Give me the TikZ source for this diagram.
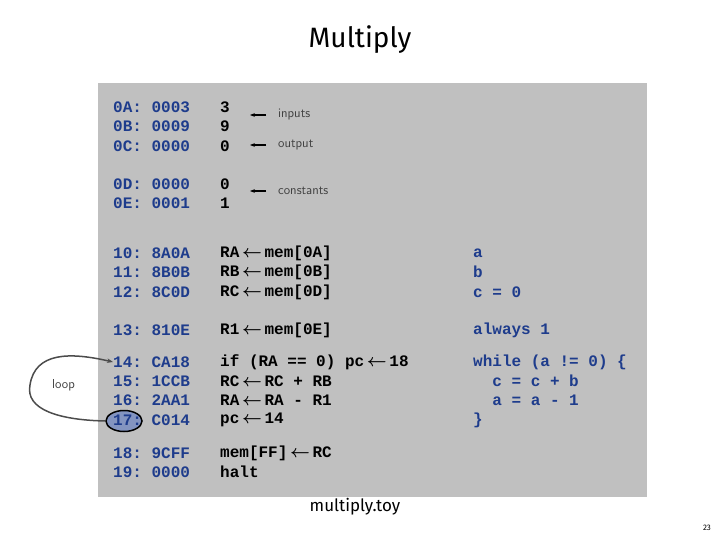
\documentclass[tikz,border=0pt]{standalone}
\usepackage{amsmath}
\usepackage{fontspec}
\setmainfont{Fira Sans}
\setmonofont{Liberation Mono}
\usetikzlibrary{arrows.meta, shapes.geometric}
\definecolor{codeblue}{HTML}{1E3C8C}
\definecolor{boxgray}{HTML}{C0C0C0}
\tikzstyle{addr} = [anchor=west, font=\ttfamily\bfseries\fontsize{16}{16}\selectfont, text=codeblue, inner sep=0pt]
\tikzstyle{instr} = [anchor=west, font=\ttfamily\bfseries\fontsize{16}{16}\selectfont, text=black, inner sep=0pt]
\tikzstyle{note} = [anchor=west, font=\sffamily\fontsize{13}{13}\selectfont, text=black!75, inner sep=0pt]
\tikzstyle{arrow} = [line width=1.3pt,-{Stealth[length=5pt]}]
\newcommand{\la}{\,$\boldsymbol{\leftarrow}$\,}
\begin{document}
\begin{tikzpicture}[x=1pt,y=-1pt]
    \useasboundingbox (0,0) rectangle (720,540);
    \fill[boxgray] (98,83) rectangle (647,497);
    \node (title) at (360,40) {\fontsize{28}{28}\selectfont Multiply};
    \node (file) at (355,507) {\fontsize{17}{17}\selectfont multiply.toy};
    \node (page) at (707,528) {\fontsize{8}{8}\selectfont 23};
    % ring behind the last loop word
    \node (ring) [ellipse, draw=black, line width=1.5pt, fill=codeblue!55, minimum width=36pt, minimum height=21pt, inner sep=0pt] at (124,421) {};
    % memory words
    \foreach \y/\a/\b [count=\i] in {107/0A: 0003/3, 126/0B: 0009/9, 146/0C: 0000/0,
        184/0D: 0000/0, 203/0E: 0001/1} {
        \node (a\i) [addr] at (113,\y) {\a};
        \node (v\i) [instr] at (220,\y) {\b};
    }
    \foreach \y/\a/\b/\c [count=\i] in {253/10: 8A0A/RA\la mem[0A]/a, 272/11: 8B0B/RB\la mem[0B]/b,
        292/12: 8C0D/RC\la mem[0D]/c = 0, 330/13: 810E/R1\la mem[0E]/always 1,
        362/14: CA18/if (RA == 0) pc\la 18/while (a != 0) \{, 381/15: 1CCB/RC\la RC + RB/\ \ c = c + b,
        400/16: 2AA1/RA\la RA - R1/\ \ a = a - 1, 420/17: C014/pc\la 14/\},
        453/18: 9CFF/mem[FF]\la RC/, 472/19: 0000/halt/} {
        \node (p\i) [addr] at (113,\y) {\a};
        \node (q\i) [instr] at (220,\y) {\b};
        \node (r\i) [addr] at (473,\y) {\c};
    }
    % notes
    \node (inputs) [note] at (278,115) {inputs};
    \node (output) [note] at (278,145) {output};
    \node (consts) [note] at (278,191) {constants};
    \draw [arrow] (inputs.west) ++(-12,0) coordinate (i0) -- ++(-16,0);
    \draw [arrow] (output.west) ++(-12,0) coordinate (o0) -- ++(-16,0);
    \draw [arrow] (consts.west) ++(-12,0) coordinate (c0) -- ++(-16,0);
    % loop
    \node (loop) [note] at (52,385) {loop};
    \draw [line width=1.5pt, black!70, -{Stealth[length=6pt]}] (ring.west) .. controls (60,420) and (25,410) .. (30,385)
        .. controls (35,352) and (70,352) .. (p5.west);
\end{tikzpicture}
\end{document}
